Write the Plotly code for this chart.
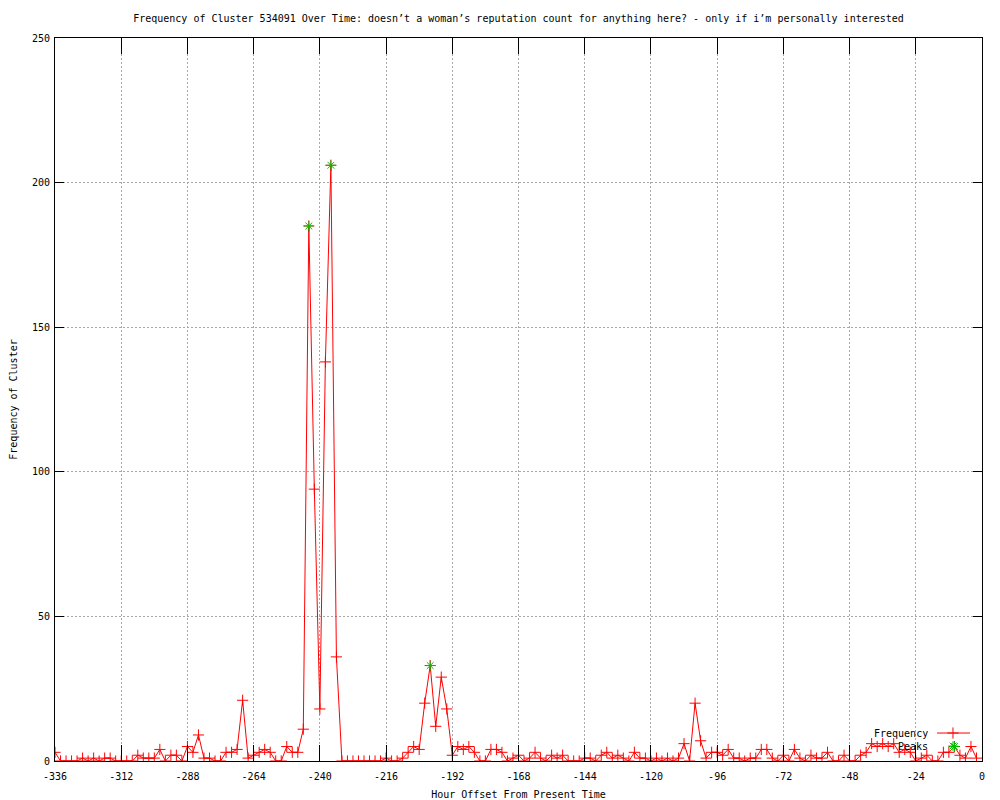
import plotly.graph_objects as go

# ---- data ----
hours = list(range(-336, 0, 2))
frequency = [
    3, 0, 0, 0, 0, 1, 0, 1, 0, 1, 1, 0,          # -336 .. -314
    0, 0, 0, 2, 1, 1, 1, 4, 0, 2, 2, 0,          # -312 .. -290
    5, 3, 9, 1, 1, 0, 0, 3, 3, 4, 21, 1,         # -288 .. -266
    2, 3, 4, 3, 0, 0, 5, 3, 3, 11, 185, 94,      # -264 .. -242
    18, 138, 206, 36, 0, 0, 0, 0, 0, 0, 0, 0,    # -240 .. -218
    1, 0, 0, 1, 3, 5, 4, 20, 33, 12, 29, 18,     # -216 .. -194
    2, 5, 4, 5, 3, 0, 0, 4, 4, 3, 0, 1,          # -192 .. -170
    2, 0, 1, 3, 1, 0, 2, 1, 2, 0, 0, 0,          # -168 .. -146
    1, 1, 0, 2, 3, 1, 2, 1, 0, 3, 1, 1,          # -144 .. -122
    0, 1, 0, 1, 0, 1, 6, 0, 20, 7, 1, 3,         # -120 .. -98
    3, 2, 4, 1, 1, 0, 1, 1, 4, 4, 1, 0,          # -96 .. -74
    2, 0, 4, 1, 0, 2, 1, 1, 3, 0, 0, 2,          # -72 .. -50
    0, 0, 2, 3, 6, 5, 6, 5, 6, 3, 4, 3,          # -48 .. -26
    0, 1, 2, 0, 0, 3, 3, 5, 2, 1, 5, 1,          # -24 .. -2
]
peak_hours = [-244, -236, -200, -10]
peak_values = [185, 206, 33, 5]

x_tickvals = list(range(-336, 1, 24))
x_ticktext = [str(v) for v in x_tickvals]
y_tickvals = [0, 50, 100, 150, 200, 250]
y_ticktext = [str(v) for v in y_tickvals]

title_text = ("Frequency of Cluster 534091 Over Time: doesn\u2019t a woman\u2019s reputation "
              "count for anything here? - only if i\u2019m personally interested")

FONT = "DejaVu Sans Mono"
RED = "#ff0000"
GREEN = "#00c000"

fig = go.Figure()
fig.add_trace(go.Scatter(
    x=hours, y=frequency, mode="lines+markers", name="Frequency",
    line=dict(color=RED, width=1),
    marker=dict(symbol="cross-thin-open", size=8, color=RED,
                line=dict(color=RED, width=1)),
    showlegend=False,
))
fig.add_trace(go.Scatter(
    x=peak_hours, y=peak_values, mode="markers", name="Peaks",
    marker=dict(symbol="asterisk-open", size=8, color=GREEN,
                line=dict(color=GREEN, width=1)),
    showlegend=False,
))

# legend keys (gnuplot style: text on the left, sample on the right)
fig.add_trace(go.Scatter(
    x=[0.9515, 0.9871], y=[0.0387, 0.0387], mode="lines",
    line=dict(color=RED, width=1), xaxis="x2", yaxis="y2",
    showlegend=False, hoverinfo="skip"))
fig.add_trace(go.Scatter(
    x=[0.9687], y=[0.0387], mode="markers",
    marker=dict(symbol="cross-thin-open", size=8, color=RED,
                line=dict(color=RED, width=1)),
    xaxis="x2", yaxis="y2", showlegend=False, hoverinfo="skip"))
fig.add_trace(go.Scatter(
    x=[0.9687], y=[0.0207], mode="markers",
    marker=dict(symbol="asterisk-open", size=8, color=GREEN,
                line=dict(color=GREEN, width=1)),
    xaxis="x2", yaxis="y2", showlegend=False, hoverinfo="skip"))

axis_common = dict(
    showline=True, linecolor="black", linewidth=1, mirror="ticks",
    ticks="inside", tickcolor="black", tickwidth=1,
    showgrid=True, gridcolor="#a8a8a8", griddash="2px,2px", gridwidth=1,
    zeroline=False, automargin=False,
    tickfont=dict(family=FONT, size=10, color="black"),
)

fig.update_layout(
    width=1000, height=800,
    paper_bgcolor="white", plot_bgcolor="white",
    margin=dict(l=55, r=18, t=38, b=39),
    font=dict(family=FONT, size=10, color="black"),
    title=dict(text=title_text, x=0.5185, xanchor="center", y=0.977, yanchor="middle",
               font=dict(family=FONT, size=10, color="black")),
    xaxis=dict(range=[-336, 0], tickvals=x_tickvals, ticktext=x_ticktext, ticklen=16,
               ticklabelstandoff=6,
               title=dict(text="Hour Offset From Present Time", standoff=10,
                          font=dict(family=FONT, size=10)),
               **axis_common),
    yaxis=dict(range=[0, 250], tickvals=y_tickvals, ticktext=y_ticktext, ticklen=9,
               ticklabelstandoff=2,
               title=dict(text="Frequency of Cluster", standoff=12,
                          font=dict(family=FONT, size=10)),
               **axis_common),
    xaxis2=dict(overlaying="x", range=[0, 1], visible=False, fixedrange=True),
    yaxis2=dict(overlaying="y", range=[0, 1], visible=False, fixedrange=True),
    annotations=[
        dict(text="Frequency", xref="paper", yref="paper", x=0.9439, y=0.0387,
             xanchor="right", yanchor="middle", showarrow=False,
             font=dict(family=FONT, size=10, color="black")),
        dict(text="Peaks", xref="paper", yref="paper", x=0.9439, y=0.0207,
             xanchor="right", yanchor="middle", showarrow=False,
             font=dict(family=FONT, size=10, color="black")),
    ],
)

fig.write_html("out.html", config={"displayModeBar": False},
               post_script="document.body.style.margin='0';")
